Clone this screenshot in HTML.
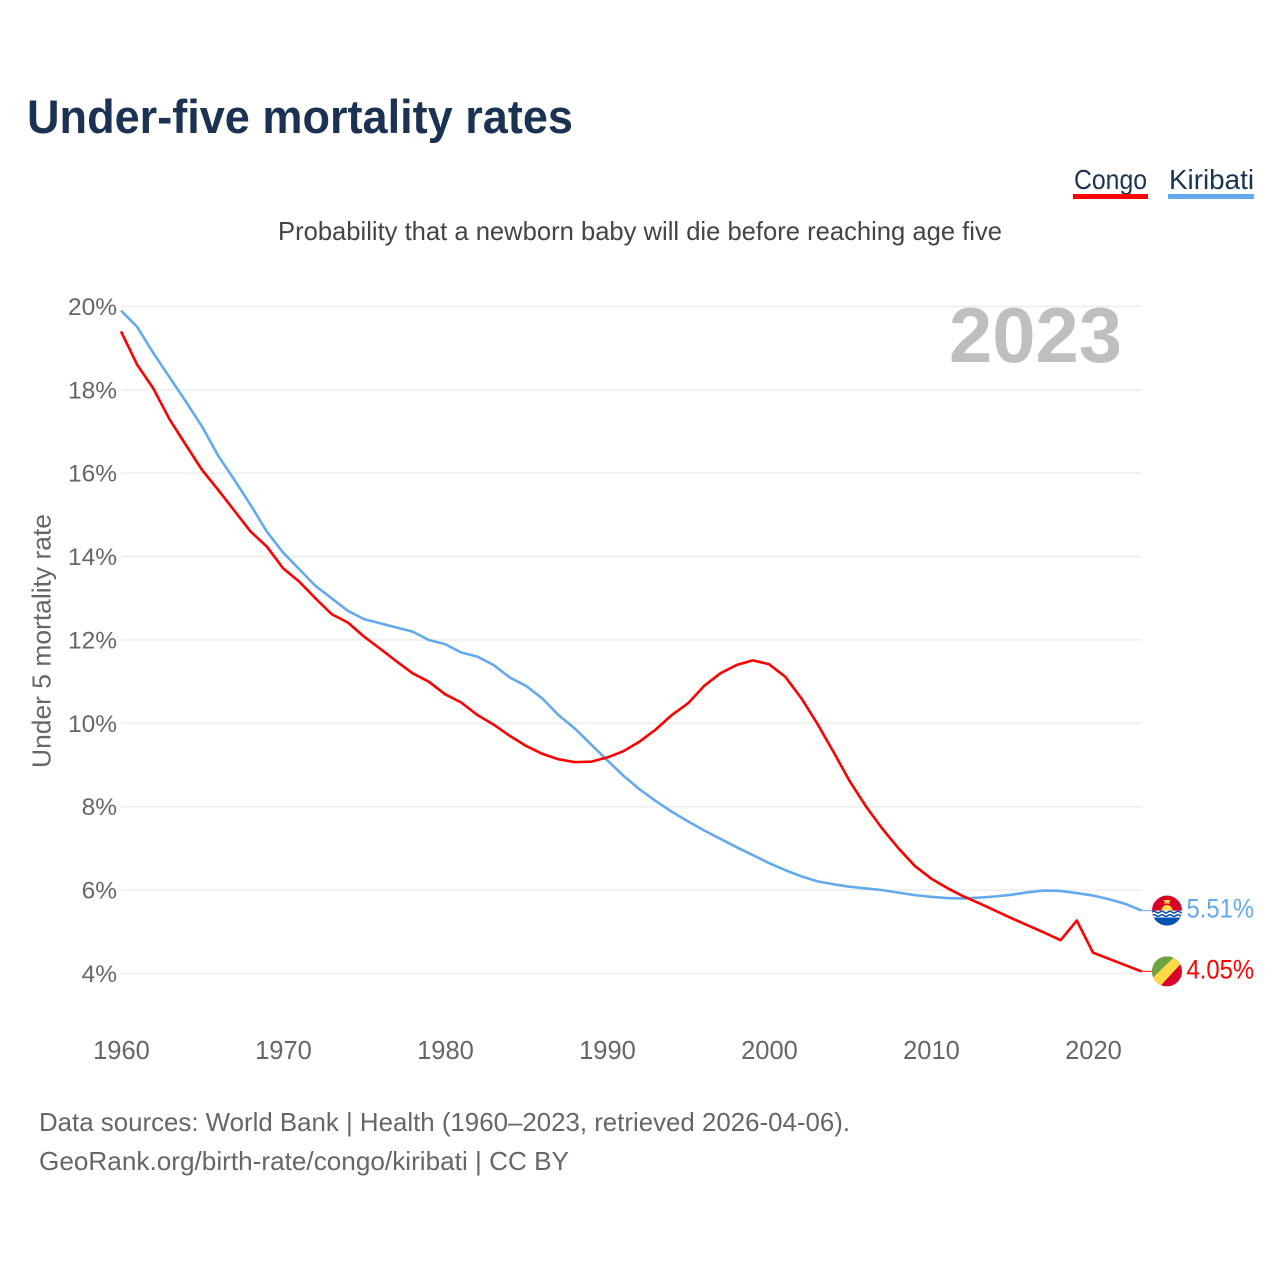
<!DOCTYPE html>
<html lang="en">
<head>
<meta charset="utf-8">
<title>Under-five mortality rates</title>
<style>
html,body{margin:0;padding:0;background:#fff;width:1280px;height:1280px;overflow:hidden}
svg{display:block}
text{font-family:"Liberation Sans",sans-serif}
</style>
</head>
<body>
<svg id="chart" xmlns="http://www.w3.org/2000/svg" width="1280" height="1280" viewBox="0 0 1280 1280">
  <rect width="1280" height="1280" fill="#fff"/>
  <text x="27" y="133" font-size="47" font-weight="700" fill="#1b3252" textLength="546" lengthAdjust="spacingAndGlyphs">Under-five mortality rates</text>
  <g>
    <text x="1074" y="189" font-size="28" fill="#1b3252" textLength="73" lengthAdjust="spacingAndGlyphs">Congo</text>
    <rect x="1073" y="194" width="75" height="5" fill="#ff0000"/>
  </g>
  <g>
    <text x="1169" y="189" font-size="28" fill="#1b3252" textLength="85" lengthAdjust="spacingAndGlyphs">Kiribati</text>
    <rect x="1168" y="194" width="86" height="5" fill="#63a9ee"/>
  </g>
  <text x="278" y="240" font-size="26" fill="#444" textLength="724" lengthAdjust="spacingAndGlyphs">Probability that a newborn baby will die before reaching age five</text>
  <text transform="translate(50.5,768) rotate(-90)" font-size="26" fill="#666" textLength="254" lengthAdjust="spacingAndGlyphs">Under 5 mortality rate</text>
  <text x="949" y="362" font-size="78" font-weight="700" fill="#bfbfbf" textLength="173" lengthAdjust="spacingAndGlyphs">2023</text>
  <g id="grid"></g>
  <g id="yticks"></g>
  <g id="xticks"></g>
  <g id="series"></g>
  <g id="ends"></g>
  <text x="39" y="1131" font-size="26" fill="#666" textLength="811" lengthAdjust="spacingAndGlyphs">Data sources: World Bank | Health (1960–2023, retrieved 2026-04-06).</text>
  <text x="39" y="1170" font-size="26" fill="#666" textLength="530" lengthAdjust="spacingAndGlyphs">GeoRank.org/birth-rate/congo/kiribati | CC BY</text>
</svg>
<script>
const startYear = 1960;
const xTickLabels = [1960, 1970, 1980, 1990, 2000, 2010, 2020];
const yTickLabels = [20, 18, 16, 14, 12, 10, 8, 6, 4];
const congoValues = [
  19.4, 18.6, 18.03, 17.29, 16.68, 16.08, 15.6, 15.1, 14.6, 14.24,
  13.72, 13.4, 13.0, 12.62, 12.42, 12.08, 11.79, 11.49, 11.2, 11.0,
  10.7, 10.5, 10.2, 9.97, 9.7, 9.46, 9.27, 9.14, 9.07, 9.08,
  9.18, 9.33, 9.56, 9.85, 10.2, 10.48, 10.9, 11.2, 11.4, 11.51,
  11.42, 11.12, 10.6, 9.98, 9.3, 8.6, 8.0, 7.47, 7.0, 6.58,
  6.28, 6.05, 5.85, 5.68, 5.5, 5.32, 5.15, 4.98, 4.8, 5.27,
  4.5, 4.35, 4.2, 4.05
];
const kiribatiValues = [
  19.9, 19.51, 18.88, 18.3, 17.72, 17.12, 16.42, 15.84, 15.24, 14.6,
  14.1, 13.7, 13.3, 13.0, 12.7, 12.5, 12.4, 12.3, 12.2, 12.0,
  11.9, 11.7, 11.6, 11.4, 11.1, 10.9, 10.6, 10.2, 9.88, 9.5,
  9.12, 8.75, 8.42, 8.14, 7.88, 7.65, 7.43, 7.23, 7.03, 6.84,
  6.65, 6.48, 6.33, 6.21, 6.14, 6.08, 6.04, 6.0, 5.94, 5.88,
  5.84, 5.81, 5.8, 5.82, 5.85, 5.89, 5.95, 5.99, 5.98, 5.93,
  5.87, 5.78, 5.67, 5.51
];

const NS = 'http://www.w3.org/2000/svg';
function xScale(year) { return 121 + (year - 1960) * 16.2; }
function yScale(value) { return 973.5 - (value - 4) * 41.69; }
function make(tag, attrs, parent) {
  const el = document.createElementNS(NS, tag);
  for (const k in attrs) el.setAttribute(k, attrs[k]);
  parent.appendChild(el);
  return el;
}

const grid = document.getElementById('grid');
const yticks = document.getElementById('yticks');
const xticks = document.getElementById('xticks');
const series = document.getElementById('series');
const ends = document.getElementById('ends');

yTickLabels.forEach(function (v) {
  const line = make('line', {x1: 121, x2: 1141.6, y1: yScale(v), y2: yScale(v), stroke: '#eeeeee', 'stroke-width': 1.6}, grid);
  
  
  const t = make('text', {x: 117, y: yScale(v) + 8.5, 'text-anchor': 'end', 'font-size': 24.5, fill: '#666'}, yticks);
  
  
  t.textContent = v + '%';
});

xTickLabels.forEach(function (yr) {
  const t = make('text', {x: xScale(yr) + 0.5, y: 1059, 'text-anchor': 'middle', 'font-size': 25.5, fill: '#666'}, xticks);
  
  
  t.textContent = yr;
});

function linePoints(values) {
  return values.map(function (v, i) {
    return xScale(startYear + i).toFixed(2) + ',' + yScale(v).toFixed(2);
  }).join(' ');
}

const kiribatiLine = make('polyline', {points: linePoints(kiribatiValues), fill: 'none', stroke: '#63a9ee', 'stroke-width': 2.6, 'stroke-linejoin': 'round'}, series);


const congoLine = make('polyline', {points: linePoints(congoValues), fill: 'none', stroke: '#ff0000', 'stroke-width': 2.6, 'stroke-linejoin': 'round'}, series);



function endLabel(values, color, lengthPx) {
  const last = values[values.length - 1];
  const lastY = yScale(last);
  const lastX = xScale(startYear + values.length - 1);
  const g = make('g', {}, ends);
  const lead = make('line', {x1: lastX, x2: 1152, y1: lastY, y2: lastY, stroke: color, 'stroke-width': 1.2, 'stroke-opacity': 0.8}, g);
  
  
  const t = make('text', {x: 1186.5, y: lastY + 7, 'font-size': 26.5, fill: color, textLength: lengthPx, lengthAdjust: 'spacingAndGlyphs'}, g);
  
  
  t.textContent = last.toFixed(2) + '%';
  return make('g', {transform: 'translate(1167,' + lastY + ')'}, g);
}

const kiribatiFlag = endLabel(kiribatiValues, '#63a9ee', 67.5);


kiribatiFlag.innerHTML =
  '<clipPath id="kclip"><circle r="15"/></clipPath>' +
  '<g clip-path="url(#kclip)">' +
  '<rect x="-15" y="-15" width="30" height="30" fill="#d80027"/>' +
  '<path d="M-5.5,0 A5.5,5.5 0 0 1 5.5,0 Z" fill="#ffda44"/>' +
  '<path d="M-4,-10.5 L4,-10.5 L2,-8.5 L3,-6.5 L0,-7.3 L-3,-6.5 L-2,-8.5 Z" fill="#ffda44"/>' +
  '<rect x="-15" y="0" width="30" height="8" fill="#f0f0f0"/>' +
  '<rect x="-15" y="7" width="30" height="8" fill="#0052b4"/>' +
  '<path d="M-15,1.5 q2,-1.6 4,0 t4,0 t4,0 t4,0 t4,0 t4,0 t4,0 t4,0 M-15,5 q2,-1.6 4,0 t4,0 t4,0 t4,0 t4,0 t4,0 t4,0 t4,0" fill="none" stroke="#0052b4" stroke-width="1.5"/>' +
  '</g>';

const congoFlag = endLabel(congoValues, '#ff0000', 67.5);


congoFlag.innerHTML =
  '<clipPath id="cclip"><circle r="15"/></clipPath>' +
  '<g clip-path="url(#cclip)">' +
  '<rect x="-15" y="-15" width="30" height="30" fill="#d80027"/>' +
  '<path d="M-15,-15 H13 L-15,13 Z" fill="#6da544"/>' +
  '<path d="M8,-15 H16 V-10 L-7,15 H-16 V8 Z" fill="#ffda44"/>' +
  '</g>';
</script>
</body>
</html>
